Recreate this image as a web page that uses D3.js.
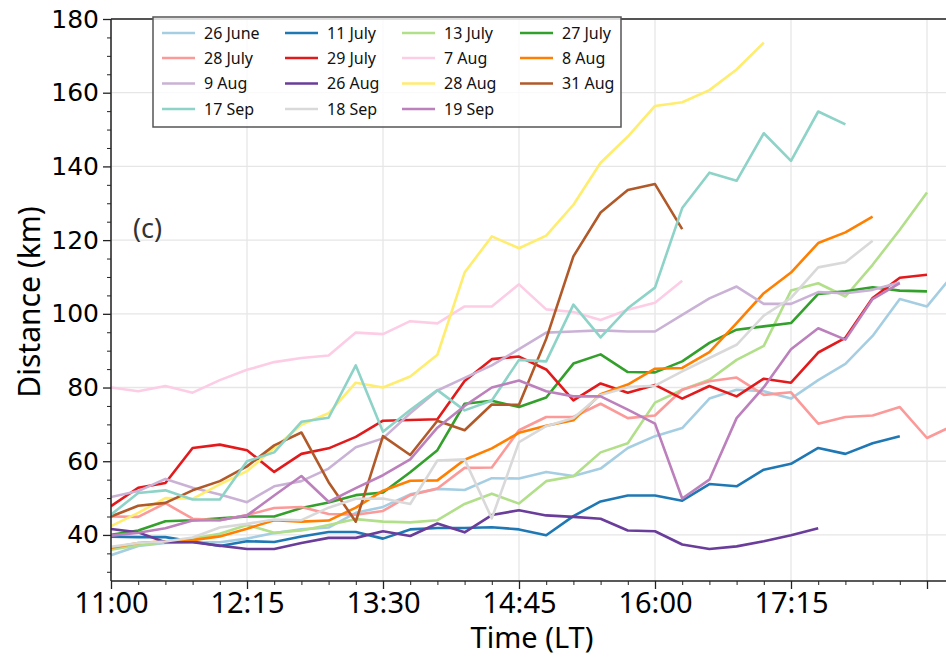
<!DOCTYPE html>
<html>
<head>
<meta charset="utf-8">
<script src="https://cdn.jsdelivr.net/npm/d3@7"></script>
<style>
  html, body { margin: 0; padding: 0; background: #fff; }
  svg { display: block; }
</style>
</head>
<body>
<div id="chart"></div>
<script>
// Sampling times (local time, every 15 minutes)
const times = ["11:00","11:15","11:30","11:45","12:00","12:15","12:30","12:45",
  "13:00","13:15","13:30","13:45","14:00","14:15","14:30","14:45",
  "15:00","15:15","15:30","15:45","16:00","16:15","16:30","16:45",
  "17:00","17:15","17:30","17:45","18:00","18:15","18:30","18:45"];

// Distance (km) for each day
const june26 = [34.5, 37, 37.8, 38, 38, 39, 40.5, 41.5, 42, 46, 47.6, 51, 52.5, 52.2, 55.4, 55.3, 57.1, 56, 58, 63.6, 66.8, 69, 77, 79.4, 79, 77, 82, 86.4, 94, 104, 102, 111];
const july11 = [39.5, 39.4, 39.4, 38.2, 37, 38.3, 38.1, 39.6, 40.8, 40.8, 39, 41.5, 41.9, 41.9, 42.1, 41.5, 39.9, 45.1, 49.1, 50.7, 50.7, 49.3, 53.8, 53.2, 57.7, 59.3, 63.6, 62, 64.9, 66.8];
const july13 = [36, 37.2, 38, 39, 40.3, 42.7, 40.6, 41.2, 42.7, 44.3, 43.6, 43.4, 44, 48.4, 51.2, 48.5, 54.6, 55.9, 62.4, 64.9, 75.9, 79.4, 82.1, 87.5, 91.3, 106.3, 108.3, 104.7, 113.3, 122.8, 132.9];
const july27 = [40, 41.2, 43.7, 44, 44.5, 45, 45, 47.3, 48.8, 50.8, 51.5, 57, 63, 75.6, 76.4, 74.7, 77.3, 86.5, 89, 84.2, 84.1, 87.1, 92.1, 95.7, 96.6, 97.5, 105.4, 106.1, 107.2, 106.3, 106.1];
const july28 = [45, 44.9, 48.6, 44.4, 44, 45.4, 47.3, 47.6, 45.7, 45.5, 46.5, 50.8, 52.6, 58.2, 58.3, 68.4, 72, 72, 75.6, 71.7, 72.4, 79.4, 81.7, 82.7, 78, 78.7, 70.2, 72, 72.4, 74.7, 66.3, 69.8];
const july29 = [47.8, 52.8, 54.1, 63.6, 64.5, 63, 57.1, 62, 63.5, 66.6, 71, 71.2, 71.4, 81.8, 87.7, 88.4, 84.9, 76.5, 81.1, 78.6, 80.7, 77, 80.4, 77.6, 82.4, 81.3, 89.5, 93.5, 104.3, 109.8, 110.6];
const aug7   = [80, 79, 80.4, 78.6, 82, 84.8, 86.9, 88, 88.7, 94.9, 94.5, 98, 97.4, 102, 102, 108, 101.2, 100.5, 98.3, 101.1, 103, 109];
const aug8   = [36.5, 37.8, 38.3, 38.6, 39.6, 41.7, 44, 43.6, 43.9, 47.4, 52, 54.7, 54.8, 60.4, 63.5, 67.7, 69.6, 71.1, 78.2, 80.8, 85.1, 85.3, 89.6, 97.5, 105.6, 111.2, 119.2, 122.1, 126.4];
const aug9   = [50.3, 51.9, 55.2, 52.8, 51, 48.9, 53.2, 54.6, 58, 63.8, 66.2, 73, 79.2, 82.6, 86, 90.4, 94.9, 95.2, 95.5, 95.2, 95.2, 99.7, 104.2, 107.4, 102.7, 102.7, 105.9, 105.6, 106.5, 108.5];
const aug26  = [41.6, 40.7, 38, 38, 37.1, 36.2, 36.2, 37.8, 39.2, 39.2, 41, 39.7, 43.1, 40.7, 45.4, 46.7, 45.3, 44.9, 44.4, 41.2, 41, 37.4, 36.2, 36.9, 38.3, 39.9, 41.8];
const aug28  = [42.4, 46, 50, 49.8, 53.7, 57.3, 63.6, 69.9, 73, 81.3, 80, 83, 88.9, 111.2, 121, 117.8, 121.2, 129.6, 141, 148.1, 156.4, 157.4, 160.7, 166.3, 173.6];
const aug31  = [45, 47.9, 48.7, 52.1, 54.6, 58.6, 64.3, 67.8, 54.3, 43.6, 66.8, 61.7, 71, 68.4, 75.4, 75.3, 93.2, 115.6, 127.5, 133.6, 135.2, 123];
const sep17  = [45.5, 51.4, 52.1, 49.6, 49.6, 60, 62.4, 70.7, 71.8, 86, 68, 73.9, 79.3, 73.8, 76.5, 87.5, 87.1, 102.5, 93.6, 101.5, 107.1, 128.7, 138.3, 136.1, 149, 141.5, 154.9, 151.4];
const sep18  = [36.8, 37.8, 38.2, 39.3, 42, 43, 44.2, 44, 47.4, 49.8, 49.9, 48.4, 60.2, 60.5, 44.5, 65.2, 69.5, 71.7, 78, 80.1, 80.5, 84.4, 88, 91.6, 99.5, 104.3, 112.6, 114, 119.8];
const sep19  = [39.8, 40.6, 41.8, 43.9, 44, 45.3, 50.7, 56, 49, 52.7, 56.2, 60.5, 69.1, 75, 80, 81.9, 79, 77.6, 77.6, 74, 70.2, 49.9, 55, 71.7, 80.1, 90.4, 96.1, 93, 104, 108.3];

const dayNames = ["26 June","11 July","13 July","27 July","28 July","29 July","7 Aug","8 Aug",
  "9 Aug","26 Aug","28 Aug","31 Aug","17 Sep","18 Sep","19 Sep"];
const dayValues = [june26, july11, july13, july27, july28, july29, aug7, aug8,
  aug9, aug26, aug28, aug31, sep17, sep18, sep19];
const dayColors = ["#a6cee3","#1f78b4","#b2df8a","#33a02c","#fb9a99","#e31a1c","#fccde5","#ff7f00",
  "#cab2d6","#6a3d9a","#ffed6f","#b15928","#8dd3c7","#d9d9d9","#bc80bd"];

const xTickLabels = ["11:00","12:15","13:30","14:45","16:00","17:15","18:30"];
const yTickValues = [40, 60, 80, 100, 120, 140, 160, 180];

// ---- layout ----
const W = 946, H = 661;
const plotLeft = 111, plotTop = 19, plotBottom = 581;

const toMin = s => { const [h, m] = s.split(":").map(Number); return h * 60 + m; };

const x = d3.scaleLinear()
  .domain([toMin("11:00"), toMin("18:45")])
  .range([plotLeft, plotLeft + 465 * (136 / 75)]);
const y = d3.scaleLinear().domain([27.5, 180]).range([plotBottom, plotTop]);

const svg = d3.select("#chart").append("svg")
  .attr("width", W).attr("height", H)
  .style("font-family", "'Noto Sans', sans-serif");

const plotRight = x.range()[1] + 10;

svg.append("defs").append("clipPath").attr("id", "plot-clip")
  .append("rect").attr("x", plotLeft).attr("y", plotTop - 2)
  .attr("width", plotRight - plotLeft).attr("height", plotBottom - plotTop + 4);

// grid
const grid = svg.append("g").attr("stroke", "#e6e6e6").attr("stroke-width", 1.3);
yTickValues.forEach(v => {
  grid.append("line").attr("x1", plotLeft).attr("x2", plotRight)
    .attr("y1", y(v)).attr("y2", y(v));
});
xTickLabels.forEach(t => {
  grid.append("line").attr("x1", x(toMin(t))).attr("x2", x(toMin(t)))
    .attr("y1", plotTop).attr("y2", plotBottom);
});

// lines
const line = d3.line()
  .x((d, i) => x(toMin(times[i])))
  .y(d => y(d));

const lines = svg.append("g").attr("clip-path", "url(#plot-clip)");
dayValues.forEach((vals, k) => {
  lines.append("path")
    .datum(vals)
    .attr("d", line)
    .attr("fill", "none")
    .attr("stroke", dayColors[k])
    .attr("stroke-width", 2.6)
    .attr("stroke-linejoin", "round");
});

// axes
const minorX = times.map(toMin);
const xAxis = d3.axisBottom(x)
  .tickValues(xTickLabels.map(toMin))
  .tickSize(8)
  .tickFormat(v => { const t = xTickLabels.find(s => toMin(s) === v); return t === "18:30" ? "" : t; });
const gx = svg.append("g").attr("transform", `translate(0,${plotBottom})`).call(xAxis);
gx.select(".domain").remove();
gx.selectAll(".tick line").attr("stroke", "#222").attr("stroke-width", 1.3);
gx.selectAll(".tick text")
  .attr("fill", "#000")
  .style("font-family", "'Noto Sans', sans-serif")
  .style("font-size", "29px")
  .attr("y", 11);

const gxm = svg.append("g").attr("transform", `translate(0,${plotBottom})`)
  .call(d3.axisBottom(x).tickValues(minorX).tickSize(4).tickFormat(""));
gxm.select(".domain").remove();
gxm.selectAll(".tick line").attr("stroke", "#222").attr("stroke-width", 1);

const yAxis = d3.axisLeft(y).tickValues(yTickValues).tickSize(8).tickPadding(4);
const gy = svg.append("g").attr("transform", `translate(${plotLeft},0)`).call(yAxis);
gy.select(".domain").remove();
gy.selectAll(".tick line").attr("stroke", "#222").attr("stroke-width", 1.3);
gy.selectAll(".tick text")
  .attr("fill", "#000")
  .style("font-family", "'DejaVu Sans', sans-serif")
  .style("font-size", "25px");

const minorY = d3.range(30, 181, 5).filter(v => v % 20 !== 0);
const gym = svg.append("g").attr("transform", `translate(${plotLeft},0)`)
  .call(d3.axisLeft(y).tickValues(minorY).tickSize(4).tickFormat(""));
gym.select(".domain").remove();
gym.selectAll(".tick line").attr("stroke", "#222").attr("stroke-width", 1);

// spines
const spine = svg.append("g").attr("stroke", "#222").attr("stroke-width", 1.5);
spine.append("line").attr("x1", plotLeft).attr("x2", plotLeft).attr("y1", plotTop).attr("y2", plotBottom);
spine.append("line").attr("x1", plotLeft).attr("x2", W).attr("y1", plotBottom).attr("y2", plotBottom);
spine.append("line").attr("x1", plotLeft).attr("x2", W).attr("y1", plotTop).attr("y2", plotTop);

// axis titles
svg.append("text")
  .attr("x", 532).attr("y", 648)
  .attr("text-anchor", "middle")
  .style("font-size", "29px")
  .text("Time (LT)");

svg.append("text")
  .attr("transform", "translate(40,302) rotate(-90)")
  .attr("text-anchor", "middle")
  .style("font-size", "30px")
  .text("Distance (km)");

// panel label
svg.append("text")
  .attr("x", 133).attr("y", 238)
  .style("font-size", "27px")
  .attr("fill", "#333")
  .text("(c)");

// legend
const legend = svg.append("g");
legend.append("rect")
  .attr("x", 153).attr("y", 17).attr("width", 468).attr("height", 110)
  .attr("fill", "#fff").attr("fill-opacity", 0.8)
  .attr("stroke", "#555").attr("stroke-width", 1.5);

const colX = [162, 285, 402, 520];
const rowY = [33, 58, 83.5, 109];
dayNames.forEach((name, k) => {
  const cx = colX[k % 4], cy = rowY[Math.floor(k / 4)];
  legend.append("line")
    .attr("x1", cx).attr("x2", cx + 33)
    .attr("y1", cy).attr("y2", cy)
    .attr("stroke", dayColors[k]).attr("stroke-width", 2.6);
  legend.append("text")
    .attr("x", cx + 42).attr("y", cy)
    .attr("dy", "0.35em")
    .style("font-size", "16px")
    .attr("fill", "#111")
    .text(name);
});
</script>
</body>
</html>
